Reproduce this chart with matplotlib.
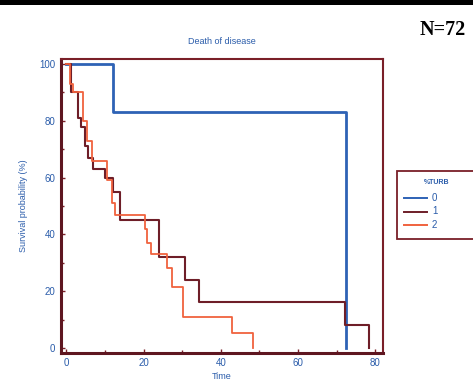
import matplotlib
matplotlib.use("Agg")
import matplotlib.pyplot as plt
from matplotlib.patches import Rectangle
from matplotlib.lines import Line2D
from matplotlib.ticker import MultipleLocator

plt.rcParams['font.family'] = ['Liberation Sans', 'DejaVu Sans']

# Kaplan-Meier step data (time, survival %) for each %TURB group
groups = ["0", "1", "2"]
time_0 = [0, 12.0, 72.3]
surv_0 = [100, 83.3, 0]
time_1 = [0, 1.3, 2.9, 3.9, 4.7, 5.5, 6.8, 10.0, 12.0, 13.8, 24.0, 30.8, 34.3, 72.2, 78.4]
surv_1 = [100, 90, 81, 78, 71, 67, 63, 60, 55, 45, 32, 24, 16, 8, 0]
time_2 = [0, 1.0, 1.6, 4.3, 5.3, 6.5, 10.6, 11.7, 12.7, 20.3, 21.0, 22.0, 26.0, 27.3, 30.3, 43.0, 48.3]
surv_2 = [100, 93, 90, 80, 73, 66, 59, 51, 47, 42, 37, 33, 28, 21.5, 11, 5.3, 0]

x_ticks = [0, 20, 40, 60, 80]
y_ticks = [0, 20, 40, 60, 80, 100]

colors = ["#2E62B5", "#6E1E28", "#F0623E"]
widths = [2.0, 1.5, 1.3]
text_blue = "#2A5CAA"
frame = "#7A1F28"

W, H = 473, 387
fig = plt.figure(figsize=(W / 100, H / 100), dpi=100)
fig.patch.set_facecolor("white")

# black band along the top edge
fig.add_artist(Rectangle((0, 1 - 5 / H), 1, 5 / H, transform=fig.transFigure,
                         facecolor="black", edgecolor="none"))

ax = fig.add_axes([61 / W, 1 - 353 / H, (383 - 61) / W, (353 - 59) / H])

series = [(time_0, surv_0), (time_1, surv_1), (time_2, surv_2)]
for (t, s), c, lw in zip(series, colors, widths):
    ax.step(t, s, where="post", color=c, lw=lw)

ax.set_xlim(-1.4, 82.0)
ax.set_ylim(-1.8, 101.8)
ax.set_xticks(x_ticks)
ax.set_yticks(y_ticks)
ax.xaxis.set_minor_locator(MultipleLocator(10))
ax.yaxis.set_minor_locator(MultipleLocator(10))
ax.tick_params(which="both", direction="in", colors=frame, labelcolor=text_blue,
               labelsize=7, width=1.0)
ax.tick_params(which="major", length=3)
ax.tick_params(which="minor", length=2)
ax.tick_params(axis="y", pad=4)

for side in ["left", "bottom"]:
    ax.spines[side].set_color("#5E1620")
    ax.spines[side].set_linewidth(2.2)
for side in ["top", "right"]:
    ax.spines[side].set_color(frame)
    ax.spines[side].set_linewidth(1.5)

ax.set_title("Death of disease", color=text_blue, fontsize=6.5, pad=11)
ax.set_xlabel("Time", color=text_blue, fontsize=6.5, labelpad=3)
ax.set_ylabel("Survival probability (%)", color=text_blue, fontsize=6.5, labelpad=8)

fig.text(443 / W, 1 - 30 / H, "N=72", family=["Liberation Serif", "DejaVu Serif"],
         weight="bold", fontsize=14.5, ha="center", va="center", color="black")

# legend box, running off the right edge
fig.add_artist(Rectangle((397 / W, 1 - 239 / H), 90 / W, 68 / H,
                         transform=fig.transFigure, facecolor="white",
                         edgecolor=frame, lw=1.3, clip_on=False))
fig.text(437 / W, 1 - 182 / H, "%TURB", color=text_blue, fontsize=5, weight="bold",
         ha="center", va="center")
for i, (g, c) in enumerate(zip(groups, colors)):
    yy = 1 - (198 + 13.5 * i) / H
    fig.add_artist(Line2D([404 / W, 427 / W], [yy, yy], transform=fig.transFigure,
                          color=c, lw=1.4))
    fig.text(432 / W, yy, g, color=text_blue, fontsize=7, ha="left", va="center")

fig.savefig("out.png", dpi=100)
